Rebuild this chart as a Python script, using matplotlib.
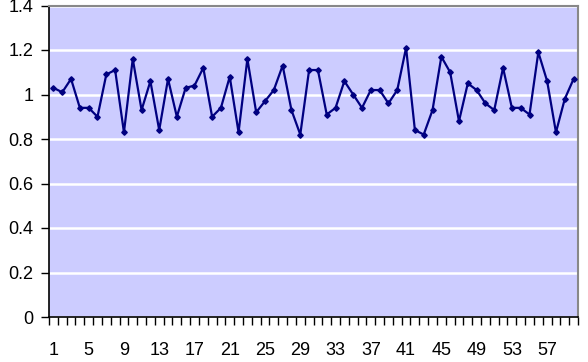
import matplotlib
matplotlib.use("Agg")
import matplotlib.pyplot as plt
import numpy as np

categories = list(range(1, 61))
values = [1.03, 1.01, 1.07, 0.94, 0.94, 0.90, 1.09, 1.11, 0.83, 1.16,
          0.93, 1.06, 0.84, 1.07, 0.90, 1.03, 1.04, 1.12, 0.90, 0.94,
          1.08, 0.83, 1.16, 0.92, 0.97, 1.02, 1.13, 0.93, 0.82, 1.11,
          1.11, 0.91, 0.94, 1.06, 1.00, 0.94, 1.02, 1.02, 0.96, 1.02,
          1.21, 0.84, 0.82, 0.93, 1.17, 1.10, 0.88, 1.05, 1.02, 0.96,
          0.93, 1.12, 0.94, 0.94, 0.91, 1.19, 1.06, 0.83, 0.98, 1.07]
y_ticks = [0, 0.2, 0.4, 0.6, 0.8, 1, 1.2, 1.4]
y_tick_labels = ["0", "0.2", "0.4", "0.6", "0.8", "1", "1.2", "1.4"]
x_label_values = list(range(1, 61, 4))

plt.rcParams['font.family'] = ['Liberation Sans', 'DejaVu Sans']

fig = plt.figure(figsize=(5.88, 3.62), dpi=100)
ax = fig.add_axes([49/588, 1 - 317/362, (578-49)/588, (317-5.5)/362])
ax.set_facecolor('#CCCCFF')

ax.plot(categories, values, color='#000080', linewidth=1.6, marker='D',
        markersize=2.8, markerfacecolor='#000080', markeredgecolor='#000080', zorder=3)

ax.set_xlim(0.5, len(categories) + 0.5)
ax.set_ylim(0, 1.4)
ax.set_yticks(y_ticks)
ax.set_yticklabels(y_tick_labels)
ax.yaxis.grid(True, color='white', linewidth=1.8)
ax.set_axisbelow(True)

ax.set_xticks(np.arange(0.5, len(categories) + 1, 1.0))
ax.set_xticklabels([])
ax.set_xticks(x_label_values, minor=True)
ax.set_xticklabels([str(v) for v in x_label_values], minor=True)
ax.tick_params(axis='x', which='major', direction='out', length=6, width=1, color='black')
ax.tick_params(axis='x', which='minor', length=0, pad=18, labelsize=13)
ax.tick_params(axis='y', direction='out', length=6, width=1, pad=5, labelsize=13)

for s in ['top', 'right']:
    ax.spines[s].set_color('#888888')
    ax.spines[s].set_linewidth(1.5)
for s in ['left', 'bottom']:
    ax.spines[s].set_color('black')
    ax.spines[s].set_linewidth(1.2)

fig.savefig('out.png', dpi=100)
